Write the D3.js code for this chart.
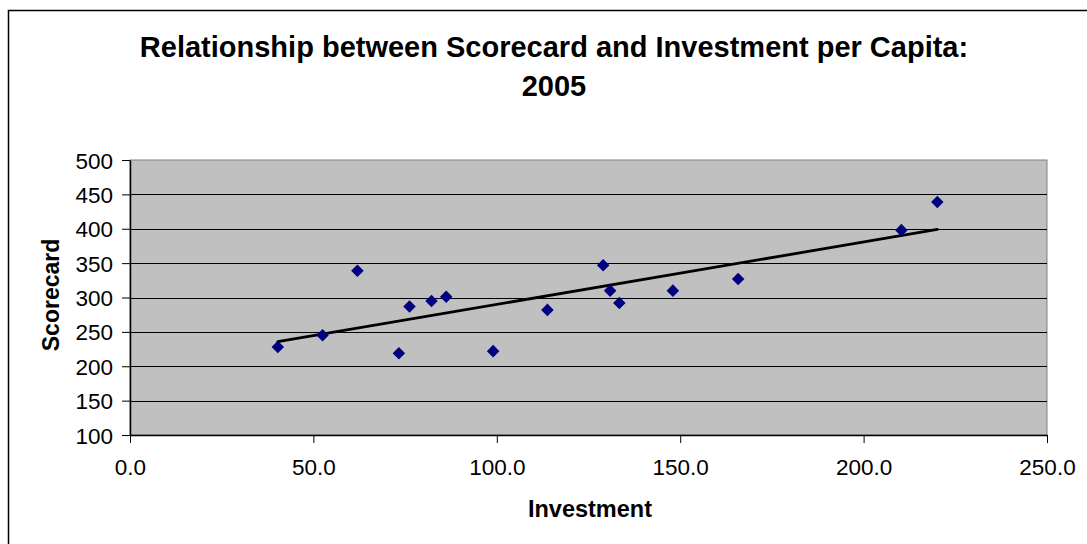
<!DOCTYPE html>
<html>
<head>
<meta charset="utf-8">
<script src="https://cdn.jsdelivr.net/npm/d3@7"></script>
<style>
  html, body { margin: 0; padding: 0; background: #fff; overflow: hidden; }
  text { font-family: "Liberation Sans", Arial, sans-serif; fill: #000; }
</style>
</head>
<body>
<svg id="chart" width="1087" height="544"></svg>
<script>
// Investment per capita (x) and scorecard (y), one entry per state
const investment = [40.3, 52.5, 62.0, 73.3, 76.2, 82.2, 86.2, 99.0, 113.8, 129.0, 130.9, 133.4, 148.0, 165.8, 210.3, 220.1];
const scorecard  = [228, 245, 339, 219, 287, 295, 301, 222, 282, 347, 310, 292, 310, 327, 398, 439];

const xTicks = [0, 50, 100, 150, 200, 250];
const yTicks = [100, 150, 200, 250, 300, 350, 400, 450, 500];

const titleLines = ["Relationship between Scorecard and Investment per Capita:", "2005"];
const xTitle = "Investment";
const yTitle = "Scorecard";

const svg = d3.select("#chart");
const W = 1087, H = 544;

// outer chart frame (runs past the right and bottom edges)
svg.append("rect")
  .attr("x", 8.5).attr("y", 10.5)
  .attr("width", W + 20).attr("height", H + 20)
  .attr("fill", "#fff").attr("stroke", "#000").attr("stroke-width", 1.5);

const plot = { left: 130, top: 160, right: 1047, bottom: 435 };

const x = d3.scaleLinear().domain([0, 250]).range([plot.left, plot.right]);
const y = d3.scaleLinear().domain([100, 500]).range([plot.bottom, plot.top]);

// plot background
svg.append("rect")
  .attr("x", plot.left).attr("y", plot.top)
  .attr("width", plot.right - plot.left).attr("height", plot.bottom - plot.top)
  .attr("fill", "#c0c0c0").attr("stroke", "#808080").attr("stroke-width", 1);

// horizontal gridlines
svg.append("g")
  .selectAll("line")
  .data(yTicks.filter(v => v > 100 && v < 500))
  .join("line")
  .attr("x1", plot.left).attr("x2", plot.right)
  .attr("y1", d => Math.round(y(d)) + 0.5).attr("y2", d => Math.round(y(d)) + 0.5)
  .attr("stroke", "#000").attr("stroke-width", 1);

// axes
const xAxis = d3.axisBottom(x).tickValues(xTicks).tickFormat(d3.format(".1f")).tickSizeInner(8).tickSizeOuter(0).tickPadding(16);
const yAxis = d3.axisLeft(y).tickValues(yTicks).tickFormat(d3.format("d")).tickSizeInner(8).tickSizeOuter(0).tickPadding(9);

const gx = svg.append("g").attr("transform", `translate(0,${plot.bottom})`).call(xAxis);
const gy = svg.append("g").attr("transform", `translate(${plot.left},0)`).call(yAxis);

[gx, gy].forEach(g => {
  g.select(".domain").attr("stroke", "#000").attr("stroke-width", 1.5);
  g.selectAll(".tick line").attr("stroke", "#000");
  g.selectAll(".tick text")
    .attr("font-family", "'Liberation Sans', Arial, sans-serif")
    .attr("font-size", 22.5).attr("fill", "#000");
});
gy.selectAll(".tick text").attr("dy", "0.36em");

// least-squares trendline over the data range
const n = investment.length;
const mx = d3.mean(investment), my = d3.mean(scorecard);
let sxy = 0, sxx = 0;
for (let i = 0; i < n; i++) {
  sxy += (investment[i] - mx) * (scorecard[i] - my);
  sxx += (investment[i] - mx) ** 2;
}
const slope = sxy / sxx, intercept = my - slope * mx;
const xExt = d3.extent(investment);
svg.append("line")
  .attr("x1", x(xExt[0])).attr("y1", y(intercept + slope * xExt[0]))
  .attr("x2", x(xExt[1])).attr("y2", y(intercept + slope * xExt[1]))
  .attr("stroke", "#000").attr("stroke-width", 2.8).attr("stroke-linecap", "round");

// diamond markers
const diamond = d3.symbol().type(d3.symbolDiamond2).size(100);
svg.append("g")
  .selectAll("path")
  .data(investment.map((v, i) => [v, scorecard[i]]))
  .join("path")
  .attr("d", diamond)
  .attr("transform", d => `translate(${x(d[0])},${y(d[1])})`)
  .attr("fill", "#000080");

// title
const title = svg.append("text")
  .attr("x", 554).attr("text-anchor", "middle")
  .attr("font-size", 29).attr("font-weight", "bold");
titleLines.forEach((t, i) => {
  title.append("tspan").attr("x", 554).attr("y", 57 + i * 38.5).text(t);
});

// axis titles
svg.append("text")
  .attr("x", 590).attr("y", 517)
  .attr("text-anchor", "middle")
  .attr("font-size", 23.5).attr("font-weight", "bold")
  .text(xTitle);

svg.append("text")
  .attr("transform", `translate(59,295) rotate(-90)`)
  .attr("text-anchor", "middle")
  .attr("font-size", 23).attr("font-weight", "bold")
  .text(yTitle);
</script>
</body>
</html>
